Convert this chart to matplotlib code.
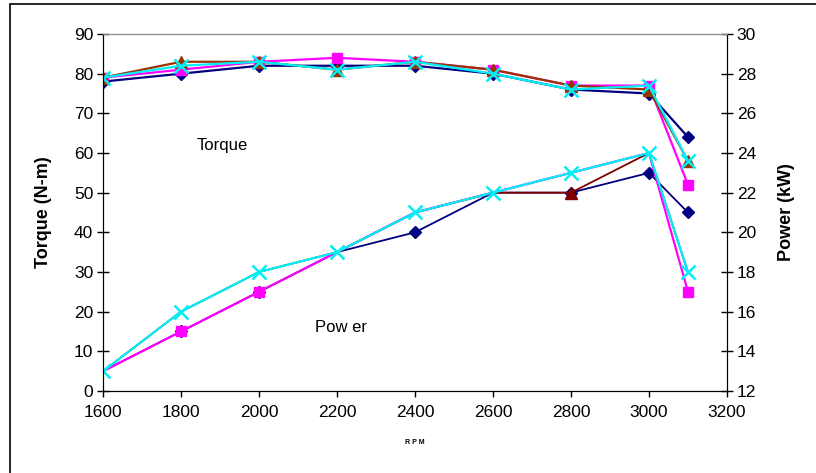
import matplotlib.pyplot as plt
from matplotlib.patches import Rectangle

plt.rcParams['font.family'] = ['Liberation Sans', 'DejaVu Sans']

rpm = [1600, 1800, 2000, 2200, 2400, 2600, 2800, 3000, 3100]

# torque (N-m), left axis
torque_diamond = [78, 80, 82, 82, 82, 80, 76, 75, 64]
torque_square = [79, 81, 83, 84, 83, 81, 77, 77, 52]
torque_triangle = [79, 83, 83, 81, 83, 81, 77, 76, 58]
torque_cross = [79, 82, 83, 81, 83, 80, 76, 77, 58]

# power (kW), right axis
power_diamond = [13, 15, 17, 19, 20, 22, 22, 23, 21]
power_square = [13, 15, 17, 19, 21, 22, 23, 24, 17]
power_triangle = [13, 16, 18, 19, 21, 22, 22, 24, 18]
power_cross = [13, 16, 18, 19, 21, 22, 23, 24, 18]

fig = plt.figure(figsize=(8.16, 4.73), dpi=100)
ax = fig.add_axes([0.1262, 0.1734, 0.7647, 0.7547])
ax2 = ax.twinx()

fig.patches.append(Rectangle((10 / 816, -0.2), 1.2, 1.2 - 4 / 473, transform=fig.transFigure,
                             fill=False, edgecolor='black', linewidth=1.2))

cyan = '#00F0F8'
lw = 1.6
ax.plot(rpm, torque_diamond, color='#000080', marker='D', markersize=6, linewidth=lw)
ax.plot(rpm, torque_square, color='#FF00FF', marker='s', markersize=7, linewidth=lw)
ax.plot(rpm, torque_triangle, color='#993300', marker='^', markersize=8, linewidth=lw)
ax.plot(rpm, torque_cross, color=cyan, marker='x', markersize=10, markeredgewidth=1.8, linewidth=lw)

# power markers that lie under the cyan crosses are hidden in the original
ax2.plot(rpm, power_diamond, color='#000080', marker='D', markersize=6, linewidth=1.3,
         markevery=[1, 2, 4, 6, 7, 8])
ax2.plot(rpm, power_square, color='#FF00FF', marker='s', markersize=7, linewidth=lw,
         markevery=[1, 2, 8])
ax2.plot(rpm, power_triangle, color='#800000', marker='^', markersize=8, linewidth=1.3,
         markevery=[6])
ax2.plot(rpm, power_cross, color=cyan, marker='x', markersize=10, markeredgewidth=1.8, linewidth=lw)

ax.set_xlim(1600, 3200)
ax.set_ylim(0, 90)
ax2.set_ylim(12, 30)
ax.set_xticks(range(1600, 3201, 200))
ax.set_yticks(range(0, 91, 10))
ax2.set_yticks(range(12, 31, 2))

for a in (ax, ax2):
    a.tick_params(axis='both', direction='inout', length=8, width=1, labelsize=12.5, pad=3)
    a.spines['top'].set_color('#888888')
ax.tick_params(axis='x', direction='out', length=4, pad=6)
ax2.spines['right'].set_color('black')

ax.set_ylabel('Torque (N-m)', fontsize=13, fontweight='bold', labelpad=16)
ax2.set_ylabel('Power (kW)', fontsize=13, fontweight='bold', labelpad=16)
ax.set_xlabel('R P M', fontsize=5, fontweight='bold', labelpad=14)

ax.text(1905, 62, 'Torque', fontsize=12, ha='center', va='center')
ax.text(2210, 16, 'Pow er', fontsize=12, ha='center', va='center')

fig.savefig('out.png', dpi=100)
